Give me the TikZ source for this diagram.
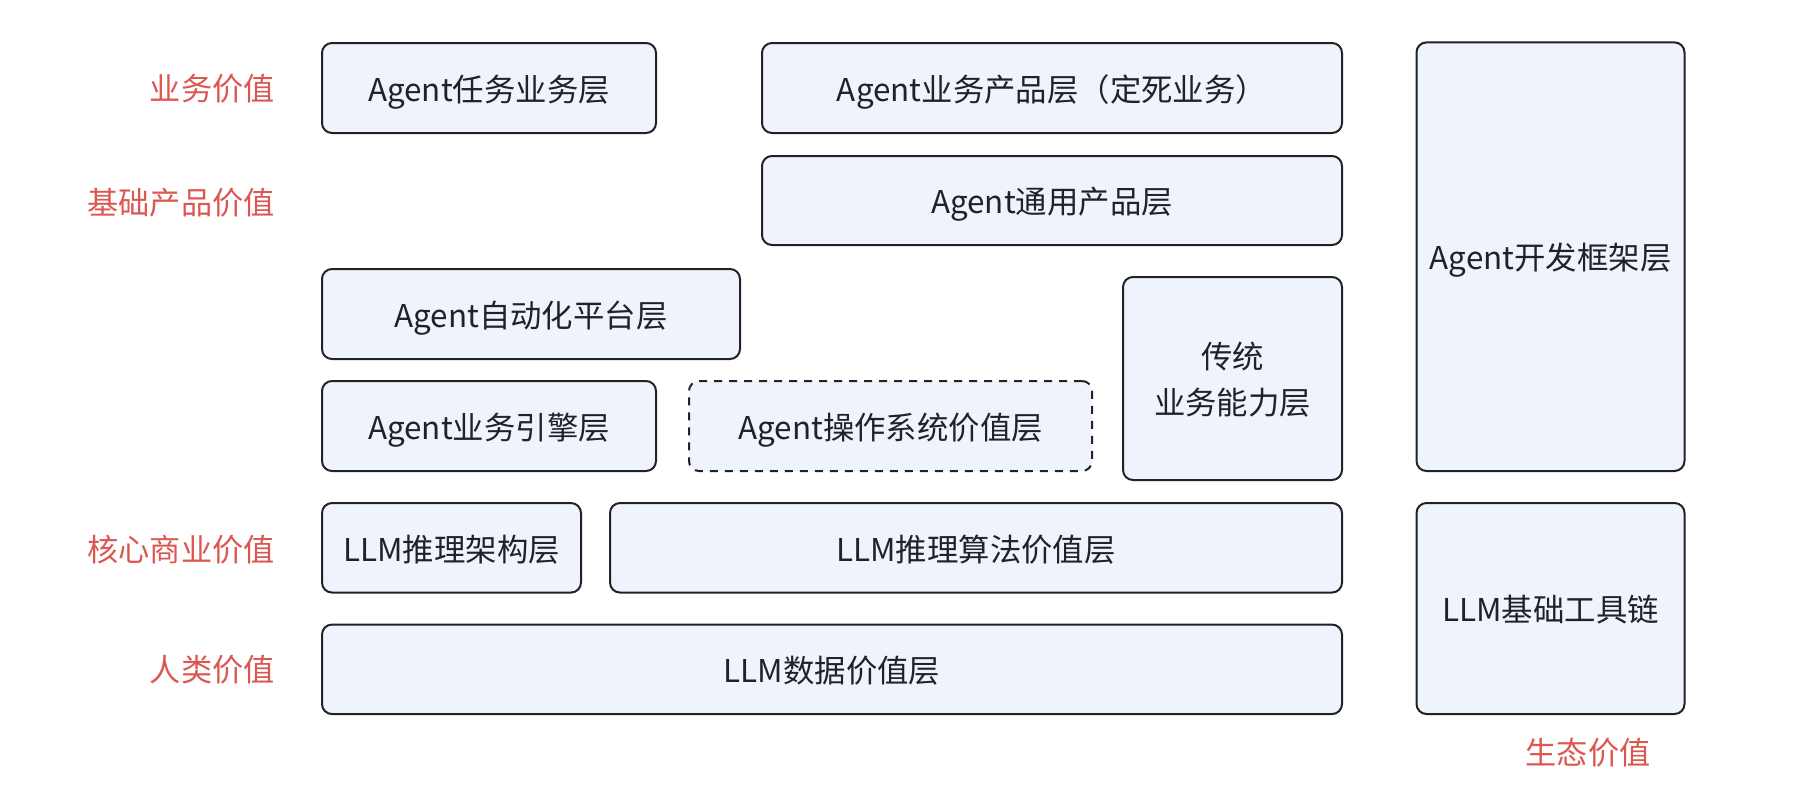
\documentclass[tikz,border=0pt]{standalone}
\usepackage{fontspec}
\setmainfont{Noto Sans CJK SC}
\definecolor{layerfill}{RGB}{239,243,252}
\definecolor{layerline}{RGB}{34,34,38}
\definecolor{layertext}{RGB}{31,35,41}
\definecolor{valred}{RGB}{219,88,82}

\begin{document}
\begin{tikzpicture}[x=0.5pt, y=-0.5pt,
    layer/.style={draw=layerline, fill=layerfill, line width=1pt, rounded corners=5pt,
        inner sep=0pt, text depth=0pt, text=layertext, align=center, font=\fontsize{15.7}{23}\selectfont},
    valeur/.style={text=valred, inner sep=0pt, font=\fontsize{15.6}{18}\selectfont}]
        \useasboundingbox (0,0) rectangle (1797,804);
        % Couches Agent
        \node[layer, minimum width=167pt, minimum height=45pt] (tache) at (489,88) {Agent任务业务层};
        \node[layer, minimum width=290pt, minimum height=45pt] (produit) at (1052,88) {Agent业务产品层（定死业务）};
        \node[layer, minimum width=290pt, minimum height=44.5pt] (general) at (1052,200.5) {Agent通用产品层};
        \node[layer, minimum width=209pt, minimum height=45pt] (auto) at (531,314) {Agent自动化平台层};
        \node[layer, minimum width=167pt, minimum height=45pt] (moteur) at (489,426) {Agent业务引擎层};
        \node[layer, dash pattern=on 4pt off 3.5pt, minimum width=201.5pt, minimum height=45pt] (os) at (890.5,426) {Agent操作系统价值层};
        \node[layer, minimum width=109.5pt, minimum height=101.5pt] (trad) at (1232.5,378.5) {传统\\业务能力层};
        \node[layer, minimum width=134pt, minimum height=214.3pt] (cadre) at (1550.5,256.7) {Agent开发框架层};
        % Couches LLM
        \node[layer, minimum width=129.5pt, minimum height=44.75pt] (archi) at (451.5,547.8) {LLM推理架构层};
        \node[layer, minimum width=366pt, minimum height=44.75pt] (algo) at (976,547.8) {LLM推理算法价值层};
        \node[layer, minimum width=510pt, minimum height=44.75pt] (donnees) at (832,669.3) {LLM数据价值层};
        \node[layer, minimum width=134pt, minimum height=105.5pt] (outils) at (1550.5,608.5) {LLM基础工具链};
        % Valeurs
        \node[valeur, anchor=east] (vbiz) at (275,89) {业务价值};
        \node[valeur, anchor=east] (vbase) at (275,203) {基础产品价值};
        \node[valeur, anchor=east] (vcore) at (275,550) {核心商业价值};
        \node[valeur, anchor=east] (vhum) at (275,670) {人类价值};
        \node[valeur] (veco) at (1588,753) {生态价值};
    \end{tikzpicture}
\end{document}
